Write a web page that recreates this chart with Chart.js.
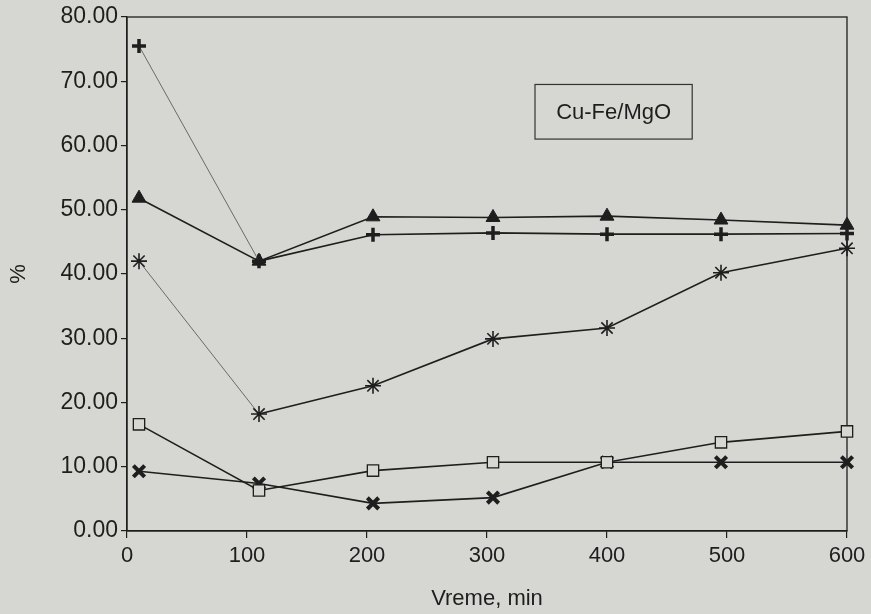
<!DOCTYPE html>
<html>
<head>
<meta charset="utf-8">
<script src="https://cdn.jsdelivr.net/npm/chart.js@4/dist/chart.umd.min.js"></script>
<style>
  html, body { margin: 0; padding: 0; background: #d6d7d2; }
  canvas { display: block; }
</style>
</head>
<body>
<canvas id="c" width="871" height="614"></canvas>
<script>
// Sampling times, min
const times = [10, 110, 205, 305, 400, 495, 600];

// Measured percentages for each curve
const plusSeries     = [75.5, 42.0, 46.1, 46.4, 46.2, 46.2, 46.3];
const triangleSeries = [51.8, 42.0, 48.9, 48.8, 49.0, 48.4, 47.6];
const starSeries     = [42.0, 18.2, 22.6, 29.9, 31.6, 40.2, 44.0];
const squareSeries   = [16.6, 6.3, 9.4, 10.7, 10.7, 13.8, 15.5];
const crossSeries    = [9.3, 7.4, 4.3, 5.2, 10.7, 10.7, 10.7];

const xTicks = [0, 100, 200, 300, 400, 500, 600];
const yTicks = [0, 10, 20, 30, 40, 50, 60, 70, 80];

const catalystLabel = 'Cu-Fe/MgO';

const BG = '#d6d7d2';
const INK = '#1e1e1e';
const FONT = '"Liberation Sans", Arial, sans-serif';

const pts = arr => arr.map((v, i) => ({ x: times[i], y: v }));

// first segment of some curves is drawn as a thin grey line
const thinFirst = (dark, light) => ({
  borderColor: ctx => ctx.p0DataIndex === 0 ? light : dark,
  borderWidth: ctx => ctx.p0DataIndex === 0 ? 1 : 1.6
});

const frame = {
  id: 'frame',
  beforeDatasetsDraw(chart) {
    const { ctx, chartArea: a } = chart;
    ctx.save();
    ctx.strokeStyle = INK;
    ctx.lineWidth = 1.3;
    ctx.strokeRect(a.left, a.top, a.right - a.left, a.bottom - a.top);
    ctx.restore();
  }
};

const labelBox = {
  id: 'labelBox',
  afterDraw(chart) {
    const { ctx } = chart;
    const xs = chart.scales.x, ys = chart.scales.y;
    // box anchored in data space
    const x0 = xs.getPixelForValue(340), x1 = xs.getPixelForValue(471);
    const y0 = ys.getPixelForValue(69.5), y1 = ys.getPixelForValue(61.0);
    ctx.save();
    ctx.strokeStyle = '#333';
    ctx.lineWidth = 1.2;
    ctx.strokeRect(x0, y0, x1 - x0, y1 - y0);
    ctx.fillStyle = INK;
    ctx.font = '22px ' + FONT;
    ctx.textAlign = 'center';
    ctx.textBaseline = 'middle';
    ctx.fillText(catalystLabel, (x0 + x1) / 2, (y0 + y1) / 2 + 1);
    ctx.restore();
  }
};

const common = { borderColor: INK, borderWidth: 1.6, clip: false, pointBorderColor: INK };

new Chart(document.getElementById('c'), {
  type: 'line',
  data: {
    datasets: [
      {
        ...common, label: 'plus',
        data: pts(plusSeries),
        segment: thinFirst(INK, '#6a6a6a'),
        pointStyle: 'cross', pointRadius: 7, pointBorderWidth: 3.5,
        pointBackgroundColor: INK
      },
      {
        ...common, label: 'triangle',
        data: pts(triangleSeries),
        pointStyle: 'triangle', pointRadius: 8, pointBorderWidth: 1,
        pointBackgroundColor: INK
      },
      {
        ...common, label: 'star',
        data: pts(starSeries),
        segment: thinFirst(INK, '#6a6a6a'),
        pointStyle: 'star', pointRadius: 8, pointBorderWidth: 1.6,
        pointBackgroundColor: INK
      },
      {
        ...common, label: 'square',
        data: pts(squareSeries),
        pointStyle: 'rect', pointRadius: 8, pointBorderWidth: 1.3,
        pointBackgroundColor: BG
      },
      {
        ...common, label: 'cross',
        data: pts(crossSeries),
        pointStyle: 'crossRot', pointRadius: 8, pointBorderWidth: 4,
        pointBackgroundColor: INK
      }
    ]
  },
  options: {
    responsive: false,
    animation: false,
    layout: { padding: { left: 0, top: 17, right: 24, bottom: 0 } },
    plugins: {
      legend: { display: false },
      tooltip: { enabled: false }
    },
    scales: {
      x: {
        type: 'linear',
        min: 0, max: 600,
        afterBuildTicks: s => { s.ticks = xTicks.map(v => ({ value: v })); },
        afterFit: s => { s.height = 83; },
        border: { display: true, color: INK, width: 1.3 },
        grid: { display: true, drawOnChartArea: false, drawTicks: true, tickLength: 7, color: INK, lineWidth: 1.2 },
        ticks: { color: INK, font: { family: FONT, size: 22 }, padding: 5, maxRotation: 0 },
        title: { display: true, text: 'Vreme, min', color: INK, font: { family: FONT, size: 22 }, padding: { top: 2, bottom: 2 } }
      },
      y: {
        type: 'linear',
        min: 0, max: 80,
        afterBuildTicks: s => { s.ticks = yTicks.map(v => ({ value: v })); },
        afterFit: s => { s.width = 127; },
        border: { display: true, color: INK, width: 1.3 },
        grid: { display: true, drawOnChartArea: false, drawTicks: true, tickLength: 6, color: INK, lineWidth: 1.2 },
        ticks: { color: INK, font: { family: FONT, size: 23 }, padding: 3, callback: v => v.toFixed(2) },
        title: { display: true, text: '%', color: INK, font: { family: FONT, size: 22 }, padding: { top: 6, bottom: 0 } }
      }
    }
  },
  plugins: [
    { id: 'bg', beforeDraw(chart) { const c = chart.ctx; c.save(); c.fillStyle = BG; c.fillRect(0, 0, chart.width, chart.height); c.restore(); } },
    frame, labelBox
  ]
});
</script>
</body>
</html>
